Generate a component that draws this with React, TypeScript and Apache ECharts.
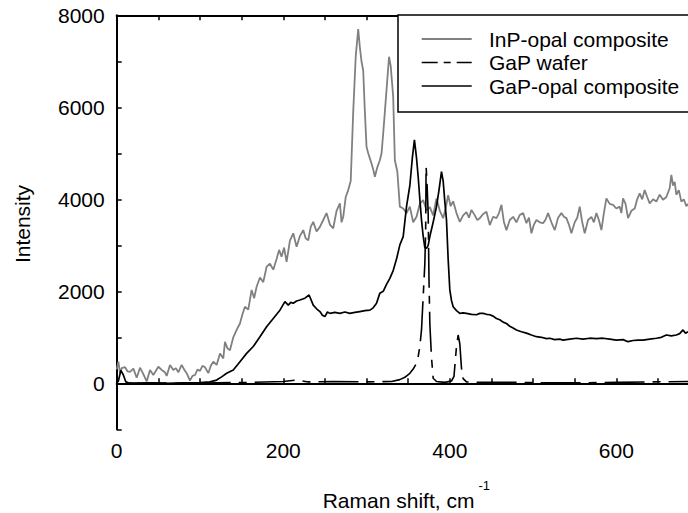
import React, { useEffect, useRef } from "react";
import * as echarts from "echarts";

const FONT = "'Liberation Sans', Arial, Helvetica, sans-serif";

const xTickLabels = [0, 200, 400, 600];
const yTickLabels = [0, 2000, 4000, 6000, 8000];

const seriesNames = ["InP-opal composite", "GaP wafer", "GaP-opal composite"];

const inpX = [0, 2, 4, 6, 10, 13, 16, 20, 24, 28, 32, 36, 40, 44, 46, 50, 54, 58, 60, 64, 68, 71, 74, 78, 81, 84, 88, 91, 94, 97, 100, 103, 106, 110, 113, 116, 120, 124, 128, 130, 133, 136, 140, 144, 148, 151, 154, 158, 162, 165, 168, 172, 176, 180, 184, 188, 192, 195, 198, 201, 204, 208, 212, 216, 220, 224, 227, 230, 233, 236, 240, 244, 248, 252, 256, 260, 264, 268, 270, 272, 275, 278, 281, 284, 287, 290, 292, 294, 296, 298, 300, 302, 304, 306, 308, 310, 313, 316, 318, 320, 322, 324, 327, 329, 332, 334, 337, 340, 344, 348, 352, 356, 360, 364, 368, 372, 376, 380, 384, 388, 392, 395, 398, 401, 404, 408, 412, 416, 420, 423, 426, 430, 433, 436, 440, 444, 448, 452, 456, 459, 462, 465, 468, 472, 476, 480, 484, 488, 492, 495, 498, 501, 504, 508, 512, 515, 518, 522, 526, 530, 534, 537, 540, 543, 546, 550, 553, 556, 559, 562, 566, 570, 573, 576, 579, 582, 585, 588, 592, 596, 600, 604, 606, 608, 611, 614, 618, 622, 625, 628, 631, 634, 637, 640, 644, 648, 652, 656, 660, 664, 666, 668, 670, 672, 675, 678, 681, 684, 686];
const inpY = [300, 470, 220, 330, 350, 260, 250, 320, 120, 340, 200, 40, 290, 180, 240, 360, 290, 240, 160, 400, 290, 330, 240, 400, 300, 220, 60, 160, 180, 300, 270, 380, 350, 220, 380, 470, 400, 650, 540, 900, 760, 720, 1000, 1160, 1300, 1500, 1665, 1600, 2030, 1850, 2100, 2300, 2200, 2535, 2600, 2470, 2700, 2900, 2750, 2950, 2640, 3100, 3260, 2970, 3200, 3330, 3150, 3110, 3400, 3510, 3300, 3400, 3550, 3700, 3450, 3370, 3750, 3910, 3500, 3620, 4050, 4200, 4400, 5900, 7100, 7700, 7300, 6990, 6800, 5900, 5140, 5000, 4890, 4780, 4650, 4490, 4700, 4850, 5000, 5430, 5900, 6380, 7100, 6900, 6230, 4850, 4600, 3840, 3800, 3700, 3840, 3500, 3620, 3900, 3985, 3760, 3830, 3650, 4020, 3750, 3590, 3800, 4090, 3850, 3960, 3700, 3510, 3650, 3720, 3600, 3770, 3650, 3550, 3590, 3680, 3730, 3440, 3620, 3590, 3700, 3880, 3500, 3330, 3550, 3620, 3500, 3660, 3700, 3480, 3600, 3260, 3450, 3550, 3500, 3480, 3560, 3700, 3500, 3330, 3600, 3700, 3620, 3590, 3450, 3260, 3500, 3600, 3840, 3500, 3260, 3550, 3620, 3500, 3700, 3550, 3330, 3700, 4020, 3900, 3880, 3800, 3840, 3700, 4020, 3900, 3590, 3750, 3800, 4000, 4130, 4000, 4200, 4050, 3910, 4000, 3950, 4100, 3990, 4050, 4240, 4530, 4300, 4380, 4100, 4200, 3950, 4000, 3850, 3900];

const waferX = [12, 40, 80, 120, 160, 200, 216, 230, 260, 300, 330, 340, 346, 352, 356, 360, 362, 364, 366, 368, 370, 371, 371.5, 372.5, 374, 375, 376, 378, 380, 384, 394, 402, 405, 408, 410, 412, 414, 416, 420, 440, 480, 520, 560, 600, 640, 686];
const waferY = [0, 10, 0, 10, 20, 40, 70, 30, 40, 30, 40, 80, 130, 217, 310, 435, 580, 800, 1160, 1880, 2600, 3330, 4710, 4400, 3700, 2250, 1300, 560, 110, 40, 20, 50, 150, 800, 1050, 860, 330, 100, 30, 20, 20, 10, 10, 20, 30, 40];

const compX = [0, 2, 5, 8, 11, 14, 20, 40, 60, 80, 100, 112, 120, 126, 132, 140, 148, 156, 164, 172, 180, 188, 196, 202, 206, 209, 212, 216, 220, 226, 231, 236, 240, 244, 247, 250, 253, 256, 262, 268, 274, 280, 286, 292, 298, 304, 308, 312, 316, 320, 324, 328, 332, 336, 340, 344, 348, 352, 355, 357.5, 360, 362, 364, 366, 368, 370, 372, 374, 376, 380, 384, 387, 390, 392, 394, 396, 398, 400, 402, 404, 408, 412, 416, 420, 426, 432, 436, 440, 444, 448, 452, 456, 460, 464, 468, 472, 476, 480, 486, 492, 498, 504, 510, 516, 520, 526, 532, 536, 544, 552, 560, 568, 576, 584, 592, 600, 608, 614, 620, 626, 632, 640, 648, 654, 660, 666, 672, 676, 680, 683, 686];
const compY = [0, 50, 280, 180, 30, 10, 0, 5, 0, 10, 15, 30, 70, 140, 217, 290, 470, 650, 800, 1013, 1230, 1410, 1590, 1775, 1700, 1760, 1740, 1790, 1810, 1850, 1920, 1700, 1620, 1560, 1480, 1450, 1550, 1520, 1540, 1520, 1550, 1520, 1540, 1560, 1580, 1590, 1640, 1740, 1960, 2000, 2150, 2280, 2450, 2700, 3010, 3190, 3840, 4300, 4900, 5290, 4900, 4490, 4000, 3550, 3200, 2950, 2935, 3000, 3190, 3500, 3840, 4200, 4600, 4400, 3950, 3550, 2700, 2030, 1800, 1665, 1580, 1520, 1530, 1520, 1500, 1490, 1520, 1520, 1500, 1490, 1460, 1410, 1380, 1330, 1300, 1240, 1200, 1160, 1120, 1090, 1050, 1013, 1000, 970, 980, 950, 960, 940, 960, 980, 960, 980, 970, 980, 960, 940, 950, 905, 930, 940, 940, 960, 980, 1000, 1050, 1030, 1050, 1080, 1160, 1090, 1120];

const zip = (xs: number[], ys: number[]) => xs.map((x, i) => [x, ys[i]]);

export default function App() {
  const ref = useRef<HTMLDivElement>(null);
  useEffect(() => {
    if (!ref.current) return;
    const chart = echarts.init(ref.current, null, { renderer: "svg" });
    const axisLine = { show: true, lineStyle: { color: "#000", width: 2 } };
    const axisTick = { show: true, inside: true, length: 5, lineStyle: { color: "#000", width: 1.5 } };
    chart.setOption({
      animation: false,
      backgroundColor: "#fff",
      grid: { left: 116.7, top: 15.3, right: 0, bottom: 83.7, containLabel: false },
      xAxis: [
        {
          type: "value",
          position: "bottom",
          min: 0,
          max: 686,
          interval: 50,
          axisLine,
          axisTick,
          splitLine: { show: false },
          axisLabel: {
            show: true,
            margin: 11,
            fontFamily: FONT,
            fontSize: 21,
            color: "#000",
            showMaxLabel: false,
            formatter: (v: number) => (xTickLabels.includes(v) ? String(v) : ""),
          },
        },
        {
          type: "value",
          position: "top",
          min: 0,
          max: 686,
          interval: 50,
          axisLine,
          axisTick,
          splitLine: { show: false },
          axisLabel: { show: false },
        },
      ],
      yAxis: {
        type: "value",
        min: -1000,
        max: 8000,
        interval: 1000,
        axisLine,
        axisTick,
        splitLine: { show: false },
        axisLabel: {
          margin: 12,
          fontFamily: FONT,
          fontSize: 21,
          color: "#000",
          formatter: (v: number) => (yTickLabels.includes(v) ? String(v) : ""),
        },
      },
      series: [
        {
          name: seriesNames[0],
          type: "line",
          data: zip(inpX, inpY),
          showSymbol: false,
          symbol: "none",
          lineStyle: { color: "#808080", width: 1.8 },
          z: 2,
        },
        {
          name: seriesNames[1],
          type: "line",
          data: zip(waferX, waferY),
          showSymbol: false,
          symbol: "none",
          lineStyle: { color: "#000", width: 1.6, type: [40, 8, 8, 8] },
          z: 3,
        },
        {
          name: seriesNames[2],
          type: "line",
          data: zip(compX, compY),
          showSymbol: false,
          symbol: "none",
          lineStyle: { color: "#000", width: 1.7 },
          z: 4,
        },
      ],
      graphic: [
        {
          type: "rect",
          shape: { x: 398, y: 15, width: 320, height: 97 },
          style: { fill: "#fff", stroke: "#000", lineWidth: 1.5 },
          z: 100,
        },
        {
          type: "line",
          shape: { x1: 421.7, y1: 39, x2: 471.7, y2: 39 },
          style: { stroke: "#808080", lineWidth: 1.8 },
          z: 101,
        },
        {
          type: "line",
          shape: { x1: 421.7, y1: 62.5, x2: 471.7, y2: 62.5 },
          style: { stroke: "#000", lineWidth: 1.6, lineDash: [16, 6, 7, 6, 15, 100] },
          z: 101,
        },
        {
          type: "line",
          shape: { x1: 421.7, y1: 86, x2: 471.7, y2: 86 },
          style: { stroke: "#000", lineWidth: 1.7 },
          z: 101,
        },
        ...seriesNames.map((n, i) => ({
          type: "text",
          x: 489,
          y: [39, 62.5, 86][i],
          style: {
            text: n,
            fontFamily: FONT,
            fontSize: 21,
            fill: "#000",
            align: "left",
            verticalAlign: "middle",
          },
          z: 101,
        })),
        {
          type: "text",
          x: 22,
          y: 224,
          rotation: Math.PI / 2,
          style: {
            text: "Intensity",
            fontFamily: FONT,
            fontSize: 21,
            fill: "#000",
            align: "center",
            verticalAlign: "middle",
          },
        },
        {
          type: "text",
          x: 322.7,
          y: 500,
          style: {
            text: "Raman shift, cm",
            fontFamily: FONT,
            fontSize: 21,
            fill: "#000",
            align: "left",
            verticalAlign: "middle",
          },
        },
        {
          type: "text",
          x: 478.5,
          y: 485,
          style: {
            text: "-1",
            fontFamily: FONT,
            fontSize: 13,
            fill: "#000",
            align: "left",
            verticalAlign: "middle",
          },
        },
      ],
    });
    return () => chart.dispose();
  }, []);
  return (
    <div
      ref={ref}
      style={{ position: "absolute", left: 0, top: 0, width: 688, height: 513 }}
    />
  );
}
